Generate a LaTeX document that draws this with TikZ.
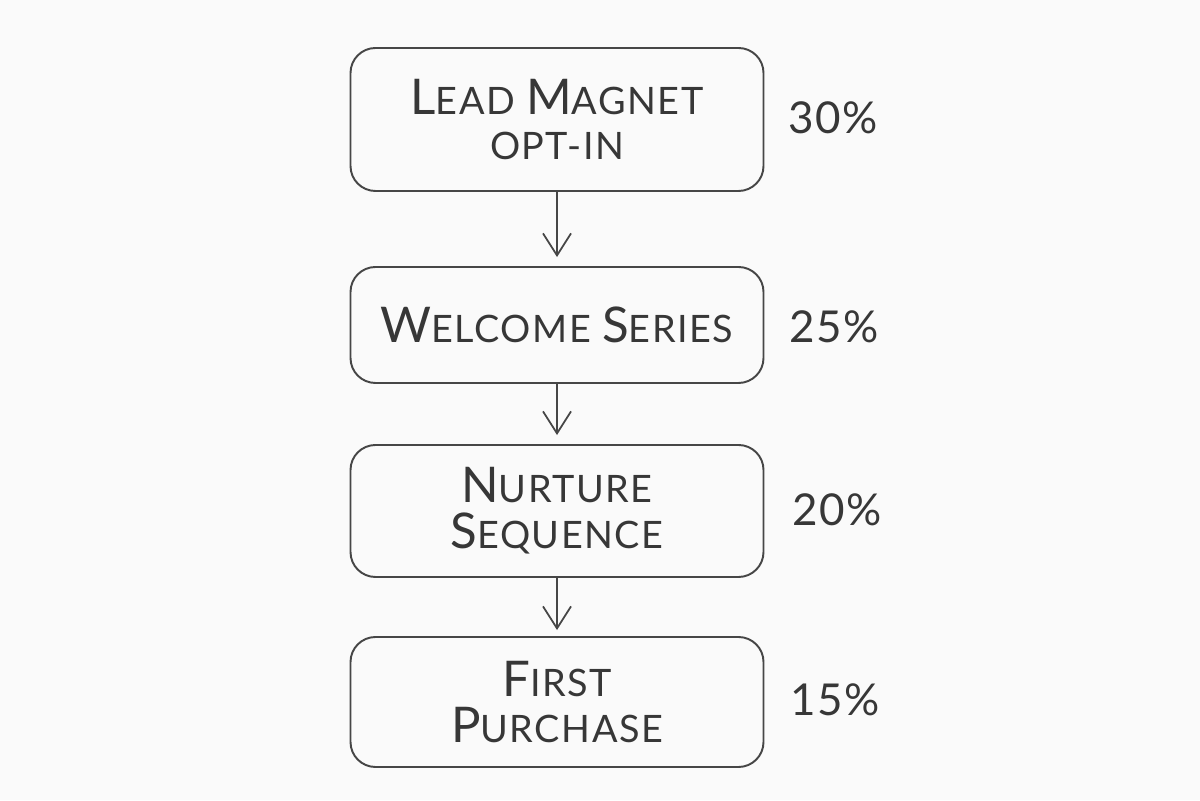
\documentclass[tikz,border=0pt]{standalone}
\usepackage{fontspec}
\setmainfont{Lato}[LetterSpace=4]
\usetikzlibrary{arrows.meta,positioning}
\definecolor{inkcolor}{RGB}{70,70,70}
\definecolor{textcolor}{RGB}{55,55,55}
\definecolor{papercolor}{RGB}{250,250,250}
\newcommand{\initcap}[1]{{\fontsize{28}{30}\selectfont #1}}

\begin{document}
\begin{tikzpicture}[
    stage/.style={draw=inkcolor, line width=1.1pt, rounded corners=0.5cm,
      minimum width=8.26cm, align=center, text=textcolor,
      font=\fontsize{21.5}{26}\selectfont},
    pct/.style={text=textcolor, font=\fontsize{25}{28}\selectfont},
    flow/.style={draw=inkcolor, line width=1pt, -{Straight Barb[length=4.4mm,width=5.6mm]}}
  ]
    \fill[papercolor] (0,0) rectangle (24,16);
    % funnel stages
    \node[stage, minimum height=2.86cm] (lead) at (11.14,13.61)
      {\initcap{L}EAD \initcap{M}AGNET\\OPT-IN};
    \node[stage, minimum height=2.32cm] (welcome) at (11.14,9.5)
      {\initcap{W}ELCOME \initcap{S}ERIES};
    \node[stage, minimum height=2.64cm] (nurture) at (11.14,5.78)
      {\initcap{N}URTURE\\\initcap{S}EQUENCE};
    \node[stage, minimum height=2.6cm] (purchase) at (11.14,1.96)
      {\initcap{F}IRST\\\initcap{P}URCHASE};
    % conversion rates
    \node[pct] (leadpct) at (16.66,13.64) {30\%};
    \node[pct] (welcomepct) at (16.68,9.46) {25\%};
    \node[pct] (nurturepct) at (16.74,5.8) {20\%};
    \node[pct] (purchasepct) at (16.7,2.0) {15\%};
    % arrows
    \draw[flow, shorten >=0.18cm] (lead) -- (welcome);
    \draw[flow, shorten >=0.18cm] (welcome) -- (nurture);
    \draw[flow, shorten >=0.12cm] (nurture) -- (purchase);
  \end{tikzpicture}
\end{document}
